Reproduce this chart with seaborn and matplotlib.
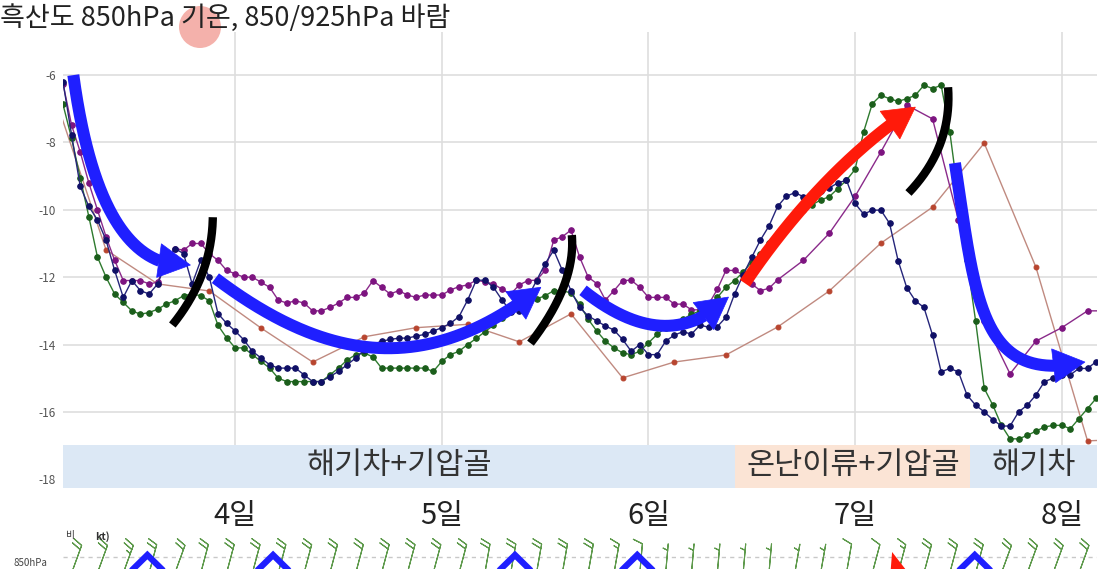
import math
import numpy as np
import pandas as pd
import matplotlib
matplotlib.use("Agg")
from matplotlib import pyplot as plt
from matplotlib.patches import Ellipse, Polygon
import seaborn as sns

# ---- data (hours counted from day 3, 00h) ----
dense_hours = list(range(4, 125))
purple_hours = list(range(4, 88)) + list(range(90, 127, 3))
brown_hours = list(range(3, 130, 6))

purple_temp = [
    -6.25, -7.49, -8.28, -9.2, -10.0, -10.8, -11.5, -12.1, -12.1, -12.1,
    -12.2, -12.15, -11.5, -11.15, -11.2, -11.0, -11.0, -11.3, -11.5, -11.8,
    -11.9, -12.0, -12.0, -12.15, -12.3, -12.68, -12.77, -12.7, -12.77, -13.0,
    -13.0, -12.9, -12.77, -12.6, -12.6, -12.47, -12.1, -12.3, -12.5, -12.4,
    -12.53, -12.6, -12.53, -12.53, -12.53, -12.38, -12.28, -12.23, -12.09, -12.14,
    -12.2, -12.36, -12.5, -12.23, -12.1, -12.09, -11.8, -10.9, -10.8, -10.6,
    -11.4, -12.0, -12.19, -12.68, -12.4, -12.1, -12.09, -12.3, -12.6, -12.6,
    -12.6, -12.8, -12.8, -12.97, -12.97, -12.8, -12.36, -11.8, -11.8, -11.93,
    -12.2, -12.4, -12.33, -12.08,
    -11.5, -10.7, -9.6, -8.28, -6.89, -7.3, -10.3, -13.3, -14.87, -13.9,
    -13.5, -13.0, -13.0,
]
navy_temp = [
    -6.2, -7.78, -9.3, -9.9, -10.3, -10.9, -11.8, -12.6, -12.1, -12.4,
    -12.5, -12.2, -11.55, -11.15, -11.3, -12.2, -11.5, -12.0, -13.08, -13.37,
    -13.6, -13.86, -14.2, -14.4, -14.6, -14.7, -14.7, -14.7, -14.9, -15.1,
    -15.1, -14.95, -14.8, -14.6, -14.4, -14.16, -14.0, -13.9, -13.85, -13.81,
    -13.81, -13.75, -13.7, -13.6, -13.5, -13.37, -13.17, -12.68, -12.09, -12.09,
    -12.3, -12.68, -13.02, -13.0, -12.6, -12.1, -11.6, -11.2, -11.8, -12.4,
    -12.9, -13.15, -13.3, -13.45, -13.57, -13.85, -14.2, -14.0, -14.3, -14.3,
    -13.9, -13.72, -13.62, -13.69, -13.42, -13.49, -13.47, -13.19, -12.5, -11.93,
    -11.41, -10.9, -10.48, -9.9, -9.6, -9.49, -9.61, -9.55, -9.45, -9.35,
    -9.2, -9.12, -9.81, -10.13, -10.01, -10.01, -10.4, -11.51, -12.31, -12.7,
    -12.9, -13.72, -14.81, -14.71, -14.81, -15.5, -15.8, -16.0, -16.23, -16.42,
    -16.42, -16.0, -15.8, -15.5, -15.1, -15.0, -14.9, -14.9, -14.71, -14.71,
    -14.51,
]
green_temp = [
    -6.87, -7.88, -9.05, -10.2, -11.4, -12.0, -12.5, -12.75, -13.0, -13.1,
    -13.05, -12.95, -12.8, -12.7, -12.55, -12.5, -12.55, -12.7, -13.43, -13.8,
    -14.1, -14.1, -14.3, -14.5, -14.7, -15.0, -15.1, -15.1, -15.1, -15.1,
    -15.1, -14.9, -14.7, -14.46, -14.3, -14.25, -14.37, -14.7, -14.7, -14.7,
    -14.7, -14.7, -14.7, -14.8, -14.5, -14.3, -14.2, -14.0, -13.82, -13.62,
    -13.43, -13.2, -13.0, -12.85, -12.75, -12.65, -12.55, -12.4, -12.4, -12.47,
    -12.8, -13.25, -13.6, -13.9, -14.1, -14.25, -14.3, -14.2, -13.95, -13.7,
    -13.5, -13.35, -13.25, -13.1, -13.0, -12.85, -12.6, -12.3, -12.1, -11.85,
    -11.55, -11.3, -11.0, -10.7, -10.45, -10.2, -10.0, -9.85, -9.71, -9.61,
    -9.37, -9.12, -8.8, -7.68, -6.85, -6.6, -6.7, -6.78, -6.7, -6.6,
    -6.3, -6.4, -6.3, -7.68, -9.6, -11.5, -13.3, -15.3, -15.8, -16.4,
    -16.8, -16.8, -16.7, -16.57, -16.45, -16.4, -16.4, -16.5, -16.2, -15.9,
    -15.6,
]
brown_temp = [
    -6.6, -11.19, -12.2, -12.41, -13.51, -14.52, -13.77, -13.5, -13.4, -13.92,
    -13.09, -14.99, -14.52, -14.31, -13.48, -12.41, -10.99, -9.92, -8.02, -11.7,
    -16.86, -16.8,
]

day_ticks = [24, 48, 72, 96, 120]
day_labels = ["4일", "5일", "6일", "7일", "8일"]
temp_ticks = [-6, -8, -10, -12, -14, -16, -18]

band_edges = [4.0, 82.1, 109.4, 124.1]
band_labels = ["해기차+기압골", "온난이류+기압골", "해기차"]

# 850hPa wind barbs, every 3 hours
barb_hours = list(range(5, 123, 3))
barb_speed = [20, 20, 25, 20, 20, 20, 20, 20, 20, 20,
              20, 20, 20, 20, 20, 20, 20, 20, 20, 20,
              20, 15, 10, 5, 5, 5, 5, 5, 5, 5,
              10, 10, 15, 20, 20, 20, 20, 20, 20, 20]
barb_dir = [20, 20, 20, 15, 20, 15, 15, 15, 15, 15,
            15, 15, 15, 15, 15, 15, 10, 10, 10, 10,
            10, 10, 5, 5, 5, 5, 5, 5, 10, 10,
            10, 15, 15, 15, 15, 15, 20, 20, 20, 20]

# ---- hand-drawn annotation overlays (hour, temp) ----
blue_arrows = [
    [(5.2, -6.0), (8.3, -11.85), (18.8, -11.64)],
    [(21.7, -12.03), (35.0, -14.6), (46.6, -14.9), (59.5, -12.3)],
    [(64.4, -12.39), (69.6, -13.45), (75.7, -14.02), (81.3, -12.59)],
    [(107.6, -8.61), (110.0, -12.68), (110.5, -15.2), (122.7, -14.52)],
]
red_arrow = [(83.2, -12.18), (88.5, -10.16), (95.4, -8.23), (103.0, -6.95)]
black_arcs = [
    [(16.7, -13.42), (21.3, -11.97), (21.4, -10.22)],
    [(58.3, -13.96), (63.6, -12.21), (63.1, -10.75)],
    [(102.2, -9.5), (107.3, -8.14), (106.8, -6.36)],
]
chevron_hours = [13.8, 28.4, 56.5, 70.7, 109.9]
red_flag_hour = 100.3

sns.set_theme(style="white")
plt.rcParams["font.family"] = ["Noto Sans CJK KR", "DejaVu Sans"]
plt.rcParams["axes.unicode_minus"] = False

W, H = 1104, 569
fig = plt.figure(figsize=(W / 100, H / 100), dpi=100)
ax = fig.add_axes([63 / W, 1 - 488 / H, (1097 - 63) / W, (488 - 32) / H])
ax.set_xlim(4.0, 124.1)
ax.set_ylim(-18.26, -4.72)

purple = pd.DataFrame({"hour": purple_hours, "temp": purple_temp})
navy = pd.DataFrame({"hour": dense_hours, "temp": navy_temp})
green = pd.DataFrame({"hour": dense_hours, "temp": green_temp})
brown = pd.DataFrame({"hour": brown_hours, "temp": brown_temp})

sns.lineplot(data=brown, x="hour", y="temp", ax=ax, color="#c08a80", lw=1.0,
             marker="o", markersize=3.5, markerfacecolor="#b8452f",
             markeredgecolor="#b8452f", estimator=None, zorder=2)
sns.lineplot(data=purple, x="hour", y="temp", ax=ax, color="#8a2a8a", lw=1.0,
             marker="o", markersize=4.0, markerfacecolor="#7d1480",
             markeredgecolor="#7d1480", estimator=None, zorder=3)
sns.lineplot(data=green, x="hour", y="temp", ax=ax, color="#2e7a2e", lw=1.0,
             marker="o", markersize=4.0, markerfacecolor="#1b5e1b",
             markeredgecolor="#1b5e1b", estimator=None, zorder=3)
sns.lineplot(data=navy, x="hour", y="temp", ax=ax, color="#25257a", lw=1.0,
             marker="o", markersize=4.0, markerfacecolor="#101066",
             markeredgecolor="#101066", estimator=None, zorder=3)

# bands with period descriptions
band_colors = ["#dce8f5", "#fbe4d5", "#dce8f5"]
for i, label in enumerate(band_labels):
    x0, x1 = band_edges[i], band_edges[i + 1]
    ax.fill_between([x0, x1], -18.26, -16.98, color=band_colors[i], lw=0, zorder=4)
    ax.text((x0 + x1) / 2, -17.58, label, ha="center",
            va="center", fontsize=22, color="#333333", zorder=5)

ax.set_xticks(day_ticks, day_labels)
ax.set_yticks(temp_ticks)
ax.grid(True, color="#dedede", lw=1.2)
ax.set_axisbelow(True)
for s in ax.spines.values():
    s.set_visible(False)
ax.tick_params(axis="x", length=0, pad=9, labelsize=21, colors="#222222")
ax.tick_params(axis="y", length=0, pad=5, labelsize=8.5, colors="#555555")
ax.set_xlabel("")
ax.set_ylabel("")


def bezier(points, n=200):
    pts = np.asarray(points, float)
    k = len(pts) - 1
    t = np.linspace(0, 1, n)[:, None]
    return sum(math.comb(k, i) * t ** i * (1 - t) ** (k - i) * pts[i] for i in range(k + 1))


def thick_arrow(ctrl, color, width_px, head_len, head_w):
    curve = ax.transData.transform(bezier(ctrl))
    tip = curve[-1]
    d = np.hypot(*(curve - tip).T)
    base_i = int(np.argmax(d < head_len))
    base = curve[base_i]
    direc = (tip - base) / np.linalg.norm(tip - base)
    normal = np.array([-direc[1], direc[0]])
    inv = ax.transData.inverted()
    shaft = inv.transform(curve[:base_i + 2])
    ax.plot(shaft[:, 0], shaft[:, 1], color=color, lw=width_px * 0.72,
            solid_capstyle="butt", zorder=7)
    tri = np.array([base + normal * head_w / 2, tip, base - normal * head_w / 2])
    ax.add_patch(Polygon(inv.transform(tri), closed=True, facecolor=color,
                         edgecolor=color, lw=0.5, zorder=7))


for ctrl in blue_arrows:
    thick_arrow(ctrl, "#1f1fff", 12, 32, 34)
thick_arrow(red_arrow, "#ff1a0a", 12, 32, 34)
for ctrl in black_arcs:
    arc = bezier(ctrl)
    ax.plot(arc[:, 0], arc[:, 1], color="black", lw=6, solid_capstyle="butt", zorder=7)

# title and cursor highlight
fig.patches.append(Ellipse((200 / W, 1 - 27 / H), 42 / W, 42 / H,
                           transform=fig.transFigure, facecolor="#f3a49c",
                           edgecolor="none", alpha=0.85, zorder=0))
fig.text(0.0, 1 - 18 / H, "흑산도 850hPa 기온, 850/925hPa 바람", fontsize=19.5,
         ha="left", va="center", color="#222222")

# wind barb strip at the bottom (cut by the figure edge)
bx = fig.add_axes([63 / W, 1 - 600 / H, (1097 - 63) / W, (600 - 525) / H])
bx.set_xlim(4.0, 124.1)
bx.set_ylim(0, 75)
bx.axis("off")
bx.axhline(600 - 557, color="#c8c8c8", lw=1, ls=(0, (3, 3)))
rad = np.deg2rad(barb_dir)
u = -np.array(barb_speed) * np.sin(rad)
v = -np.array(barb_speed) * np.cos(rad)
bx.barbs(barb_hours, [600 - 573] * len(barb_hours), u, v, length=6.5,
         sizes=dict(height=0.32, spacing=0.15, width=0.25),
         color="#5e9a4c", linewidth=0.8, flip_barb=True, zorder=2)
for h in chevron_hours:
    peak = 600 - 555
    bx.plot([h - 2.6, h, h + 2.6], [peak - 22, peak, peak - 22], color="#1f1fff",
            lw=4.5, solid_joinstyle="miter", zorder=3)
bx.fill([red_flag_hour - 0.3, red_flag_hour, red_flag_hour + 1.8],
        [600 - 585, 600 - 552, 600 - 572], color="#ff1a0a", lw=0, zorder=3)
fig.text(65 / W, 1 - 535 / H, "비", fontsize=7, ha="left", va="center", color="#333333")
fig.text(95 / W, 1 - 537 / H, "kt)", fontsize=7.5, ha="left", va="center",
         color="#333333", fontweight="bold")
fig.text(13 / W, 1 - 568 / H, "850hPa", fontsize=7, ha="left", va="bottom", color="#444444")

fig.savefig("out.png", dpi=100)
